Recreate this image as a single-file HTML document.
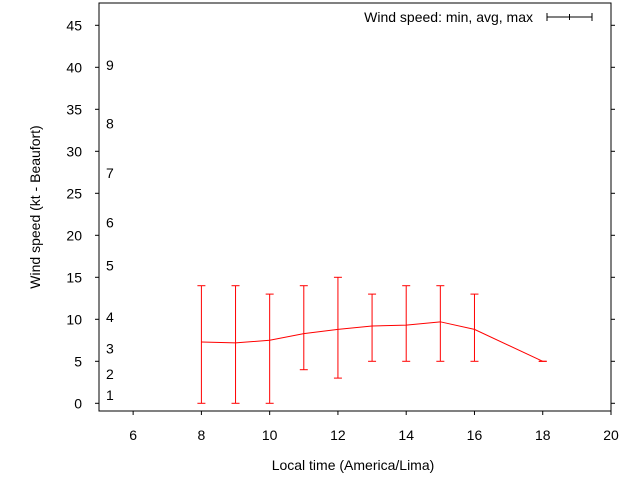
<!DOCTYPE html>
<html><head><meta charset="utf-8"><style>
body{margin:0;background:#fff;}
svg{display:block;font-family:"Liberation Sans",sans-serif;font-size:14px;}
</style></head><body>
<svg id="chart" width="640" height="480" xmlns="http://www.w3.org/2000/svg">
<rect width="640" height="480" fill="#fff"/>
<g id="axes"></g>
<g id="marks"></g>
<rect x="99" y="3" width="512" height="408" fill="none" stroke="#000" stroke-width="1"/>
<text x="0" y="0" transform="translate(40,207) rotate(-90)" text-anchor="middle">Wind speed (kt - Beaufort)</text>
<text x="353" y="470" text-anchor="middle">Local time (America/Lima)</text>
<g>
<text x="533" y="22" text-anchor="end">Wind speed: min, avg, max</text>
<line x1="547" y1="17" x2="592" y2="17" stroke="#000"/>
<line x1="547" y1="13" x2="547" y2="21" stroke="#000"/>
<line x1="592" y1="13" x2="592" y2="21" stroke="#000"/>
<line x1="569.5" y1="14" x2="569.5" y2="20" stroke="#000"/>
</g>
</svg>
<script>
const hours=[8,9,10,11,12,13,14,15,16,18];
const avgSpeed=[7.3,7.2,7.5,8.3,8.8,9.2,9.3,9.7,8.8,5];
const minSpeed=[0,0,0,4,3,5,5,5,5,5];
const maxSpeed=[14,14,13,14,15,13,14,14,13,5];
const xTicks=[6,8,10,12,14,16,18,20];
const yTicks=[0,5,10,15,20,25,30,35,40,45];
const beaufortLabels=["1","2","3","4","5","6","7","8","9"];
const beaufortValues=[1,3.5,6.5,10.3,16.4,21.5,27.4,33.3,40.3];
const NS="http://www.w3.org/2000/svg";
const xs=v=>99+(v-5)*(512/15);
const ys=v=>403.3-8.4*v;
function mk(t,a,p){const e=document.createElementNS(NS,t);for(const k in a)e.setAttribute(k,a[k]);p.appendChild(e);return e;}
const ax=document.getElementById('axes'),mg=document.getElementById('marks');
xTicks.forEach(v=>{
 const l=mk('line',{x1:xs(v),x2:xs(v),y1:411,y2:415,stroke:'#000'},ax);
 
 
 const t=mk('text',{x:xs(v),y:440,'text-anchor':'middle'},ax);t.textContent=v;
 
 
});
yTicks.forEach(v=>{
 const l=mk('line',{x1:95,x2:99,y1:ys(v),y2:ys(v),stroke:'#000'},ax);
 
 
 const r=mk('line',{x1:611,x2:615,y1:ys(v),y2:ys(v),stroke:'#000'},ax);
 
 
 const t=mk('text',{x:82,y:ys(v)+5,'text-anchor':'end'},ax);t.textContent=v;
 
 
});
beaufortLabels.forEach((s,i)=>{
 const t=mk('text',{x:106,y:ys(beaufortValues[i])+5},ax);t.textContent=s;
 
 
});
const pts=hours.map((h,i)=>xs(h)+','+ys(avgSpeed[i])).join(' ');
const pl=mk('polyline',{points:pts,fill:'none',stroke:'#f00'},mg);


hours.forEach((h,i)=>{
 const g=mk('g',{stroke:'#f00'},mg);
 
 
 const x=xs(h);
 mk('line',{x1:x,x2:x,y1:ys(minSpeed[i]),y2:ys(maxSpeed[i])},g);
 mk('line',{x1:x-4,x2:x+4,y1:ys(minSpeed[i]),y2:ys(minSpeed[i])},g);
 mk('line',{x1:x-4,x2:x+4,y1:ys(maxSpeed[i]),y2:ys(maxSpeed[i])},g);
});
</script>
</body></html>
